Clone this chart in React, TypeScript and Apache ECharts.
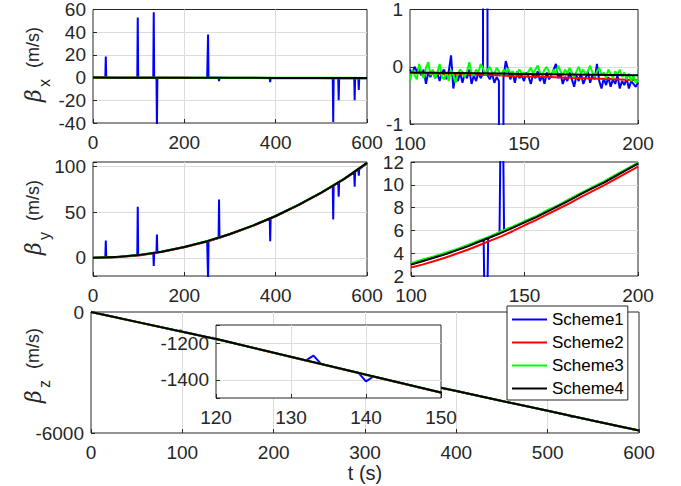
import React, { useEffect, useRef } from 'react';
import * as echarts from 'echarts';

// ---------- series identity ----------
const schemeNames = ['Scheme1', 'Scheme2', 'Scheme3', 'Scheme4'];
const schemeColors = ['#0000ff', '#ff0000', '#00ff00', '#000000'];

// ---------- full-run time base (s) ----------
const tCoarse = [0, 50, 100, 150, 200, 250, 300, 350, 400, 450, 500, 550, 600];

// beta_x over the full run (m/s)
const bx1 = [0, -0.1, -0.15, -0.15, -0.25, -0.2, -0.3, -0.3, -0.35, -0.35, -0.4, -0.4, -0.45];
const bx2 = [0, -0.05, -0.11, -0.17, -0.24, -0.3, -0.37, -0.43, -0.5, -0.56, -0.63, -0.69, -0.76];
const bx3 = [0, -0.05, -0.1, -0.1, -0.12, -0.12, -0.15, -0.15, -0.18, -0.2, -0.2, -0.22, -0.25];
const bx4 = [0, -0.06, -0.1, -0.12, -0.15, -0.17, -0.2, -0.22, -0.25, -0.27, -0.3, -0.32, -0.35];

// beta_y over the full run (m/s)
const by1 = [0, 0.75, 2.95, 6.65, 11.75, 18.25, 26.05, 35.25, 45.85, 58.05, 71.55, 86.55, 104.05];
const by2 = [0, 0.5, 2.6, 6.3, 11.4, 17.9, 25.7, 34.9, 45.5, 57.7, 71.2, 86.2, 103.7];
const by3 = [0, 0.8, 3.1, 6.8, 11.9, 18.4, 26.2, 35.4, 46, 58.2, 71.7, 86.7, 104.2];
const by4 = [0, 0.7, 2.9, 6.6, 11.7, 18.2, 26, 35.2, 45.8, 58, 71.5, 86.5, 104];

// beta_z over the full run (m/s)
const bz1 = [0, -490, -980, -1470, -1960, -2450, -2940, -3430, -3920, -4410, -4900, -5390, -5880];
const bz2 = [0, -491, -981, -1471, -1961, -2451, -2941, -3431, -3921, -4411, -4901, -5391, -5881];
const bz3 = [0, -490, -980, -1470, -1960, -2450, -2940, -3430, -3920, -4410, -4900, -5390, -5880];
const bz4 = [0, -490, -980, -1470, -1960, -2450, -2940, -3430, -3920, -4410, -4900, -5390, -5880];

// ---------- Scheme1 outliers (one-sample spikes) ----------
const spikeT = [28, 98, 133, 140, 252, 276, 388, 526, 538, 573, 582];
const spikeXPeak = [18.5, 53, 57.5, -45, 38, -3, -4, -39, -20, -20, -11];
const spikeXBefore = [0, -0.1, -0.12, -0.25, -0.2, -0.2, -0.3, -0.4, -0.4, -0.4, -0.4];
const spikeXAfter = [0, -0.1, -0.15, -0.2, -0.2, -0.2, -0.3, -0.4, -0.4, -0.4, -0.4];
const spikeYPeak = [19, 56, -9, 25.5, -25, 64, 18, 42, 67, 78, 90];
const spikeYBefore = [0.2, 2.7, 5.2, 5.75, 18.0, 21.6, 43.0, 78.8, 82.5, 93.6, 96.6];
const spikeYAfter = [0.25, 2.8, 5.35, 5.95, 18.4, 22.0, 43.3, 79.3, 83.1, 94.3, 97.2];
const spikeZPeak = [-254, -900, -1268, -1409, -2510, -2665, -3840, -5210, -5300, -5640, -5720];
const spikeZBefore = [-264, -950, -1294, -1362, -2460, -2695, -3793, -5145, -5263, -5605, -5694];
const spikeZAfter = [-284, -970, -1313, -1382, -2480, -2715, -3812, -5165, -5282, -5625, -5714];

// ---------- zoomed window 100..200 s ----------
const tFine = Array.from({ length: 101 }, (_, i) => 100 + i); // 1 s samples
const tMid = [100, 110, 120, 130, 140, 150, 160, 170, 180, 190, 200];
const tStep5 = [100, 105, 110, 115, 120, 125, 130, 135, 140, 145, 150, 155, 160, 165, 170, 175, 180, 185, 190, 195, 200];

const bxFine1 = [
  -0.05, -0.12, 0.0, -0.08, -0.02, -0.15, -0.05, -0.3, -0.1, -0.18,
  -0.06, -0.2, -0.12, -0.25, -0.1, -0.05, -0.22, -0.08, 0.2, -0.38,
  -0.15, -0.25, -0.1, -0.28, -0.12, -0.2, -0.05, -0.3, -0.15, -0.25,
  -0.1, -0.2, -0.12, -0.12, -0.15, -0.22, -0.12, -0.28, -0.18, -0.25,
  -0.22, -0.2, 0.1, -0.05, -0.22, -0.1, -0.28, -0.08, -0.2, -0.15,
  -0.25, -0.1, -0.18, -0.3, -0.12, -0.2, -0.08, -0.25, -0.15, -0.3,
  -0.1, -0.22, -0.15, -0.05, 0.05, -0.2, -0.12, -0.3, -0.18, -0.25,
  -0.1, -0.22, -0.35, -0.15, -0.25, -0.12, -0.3, -0.2, -0.08, -0.28,
  -0.15, -0.22, 0.05, -0.25, -0.38, -0.2, -0.32, -0.18, -0.35, -0.22,
  -0.3, -0.15, -0.38, -0.25, -0.32, -0.2, -0.38, -0.25, -0.3, -0.35,
  -0.28,
];
const bxMid2 = [-0.11, -0.12, -0.13, -0.14, -0.155, -0.17, -0.18, -0.19, -0.205, -0.22, -0.235];
const bxFine3 = [
  -0.25, -0.05, -0.15, -0.22, 0.05, -0.1, -0.2, -0.02, 0.08, -0.15,
  -0.05, -0.2, -0.1, 0.05, -0.18, -0.22, -0.1, -0.25, -0.05, -0.15,
  -0.28, -0.12, -0.05, -0.1, -0.18, -0.08, 0.08, -0.12, -0.15, -0.05,
  -0.1, 0.05, -0.02, -0.15, -0.05, 0.0, -0.1, -0.12, -0.02, -0.08,
  -0.15, -0.05, -0.1, -0.03, -0.12, -0.08, -0.15, -0.1, -0.05, -0.12,
  -0.1, -0.15, -0.08, -0.02, -0.12, -0.05, 0.02, -0.1, -0.15, -0.05,
  0.0, -0.1, -0.15, -0.05, -0.12, 0.02, -0.08, -0.15, -0.05, -0.12,
  -0.02, -0.1, -0.18, -0.08, 0.0, -0.12, -0.05, -0.15, -0.08, 0.02,
  -0.1, -0.18, -0.08, -0.02, -0.15, -0.1, -0.2, -0.05, -0.12, -0.2,
  -0.08, -0.15, -0.05, -0.18, -0.1, -0.22, -0.12, -0.25, -0.15, -0.28,
  -0.22,
];
const bxMid4 = [-0.1, -0.105, -0.11, -0.115, -0.12, -0.125, -0.13, -0.135, -0.14, -0.145, -0.15];

const byR1 = [3.05, 3.35, 3.65, 3.95, 4.3, 4.65, 5.05, 5.45, 5.85, 6.3, 6.75, 7.2, 7.7, 8.2, 8.7, 9.25, 9.75, 10.25, 10.8, 11.35, 11.9];
const byR2 = [2.75, 3.0, 3.3, 3.6, 3.95, 4.3, 4.7, 5.1, 5.5, 5.95, 6.45, 6.9, 7.4, 7.9, 8.4, 8.95, 9.45, 9.95, 10.5, 11.05, 11.6];
const byR3 = [3.12, 3.45, 3.72, 4.05, 4.35, 4.72, 5.12, 5.5, 5.95, 6.35, 6.82, 7.22, 7.78, 8.22, 8.78, 9.3, 9.82, 10.3, 10.88, 11.4, 11.95];
const byR4 = [3.0, 3.3, 3.6, 3.9, 4.25, 4.6, 5.0, 5.4, 5.8, 6.25, 6.7, 7.15, 7.65, 8.15, 8.65, 9.2, 9.7, 10.2, 10.75, 11.3, 11.85];

// ---------- tick label lists ----------
const midLeftYTicks = [0, 50, 100];
const insetYTicks = [-1400, -1200];

// ---------- helpers ----------
const zip = (ts: number[], vs: number[]) => ts.map((t, i) => [t, vs[i]]);

function withSpikes(ts: number[], vs: number[], before: number[], peak: number[], after: number[]) {
  const lo = ts[0];
  const hi = ts[ts.length - 1];
  const inRange = spikeT.map((s) => s >= lo && s <= hi);
  const pts: number[][] = [];
  ts.forEach((t, i) => {
    const near = spikeT.some((s, k) => inRange[k] && Math.abs(t - s) <= 1);
    if (!near) pts.push([t, vs[i]]);
  });
  spikeT.forEach((s, k) => {
    if (inRange[k]) pts.push([s - 1, before[k]], [s, peak[k]], [s + 1, after[k]]);
  });
  pts.sort((a, b) => a[0] - b[0]);
  return pts;
}

const FONT = '"Liberation Sans", Arial, Helvetica, sans-serif';
const AX = '#262626';
const plain = (v: number) => String(v);

function mkX(gi: number, min: number, max: number, interval: number, extra: any = {}) {
  return {
    type: 'value', gridIndex: gi, min, max, interval,
    axisLine: { show: false, onZero: false },
    axisTick: { show: true, inside: true, length: 4, lineStyle: { color: AX } },
    axisLabel: { fontSize: 19, color: AX, fontFamily: FONT, margin: 10, formatter: plain },
    splitLine: { show: true, showMinLine: false, showMaxLine: false, lineStyle: { color: '#dcdcdc', width: 1 } },
    ...extra,
  };
}
function mkY(gi: number, min: number, max: number, interval: number | undefined, extra: any = {}) {
  const o: any = {
    type: 'value', gridIndex: gi, min, max,
    axisLine: { show: false, onZero: false },
    axisTick: { show: true, inside: true, length: 4, lineStyle: { color: AX } },
    axisLabel: { fontSize: 19, color: AX, fontFamily: FONT, margin: 7, formatter: plain },
    splitLine: { show: true, showMinLine: false, showMaxLine: false, lineStyle: { color: '#dcdcdc', width: 1 } },
    ...extra,
  };
  if (interval !== undefined) o.interval = interval;
  return o;
}

function yLabel(cx: number, cy: number, sub: string) {
  return {
    type: 'group', x: cx, y: cy, rotation: Math.PI / 2, z: 30,
    children: [
      { type: 'text', x: -37, y: 0, style: { text: '\u03b2', font: 'italic 22px "DejaVu Serif", serif', fill: AX, align: 'left', verticalAlign: 'middle' } },
      { type: 'text', x: -22, y: 11, style: { text: sub, font: '16px ' + FONT, fill: AX, align: 'left', verticalAlign: 'middle' } },
      { type: 'text', x: -3, y: 0, style: { text: '(m/s)', font: '18px ' + FONT, fill: AX, align: 'left', verticalAlign: 'middle' } },
    ],
  };
}

export default function App() {
  const ref = useRef<HTMLDivElement>(null);
  useEffect(() => {
    if (!ref.current) return;
    const chart = echarts.init(ref.current, undefined, { renderer: 'svg' });

    const box = { show: true, borderColor: AX, borderWidth: 1, containLabel: false };
    const grids = [
      { left: 93, top: 6, width: 274, height: 117, ...box },
      { left: 410, top: 6, width: 228, height: 118, ...box },
      { left: 93, top: 162, width: 274, height: 114, ...box },
      { left: 411, top: 162, width: 227, height: 114, ...box },
      { left: 91, top: 312, width: 548, height: 121, ...box },
      { left: 216, top: 325, width: 225, height: 73, ...box, backgroundColor: '#ffffff', z: 10 },
    ];

    const xAxis = [
      mkX(0, 0, 600, 200),
      mkX(1, 100, 200, 50),
      mkX(2, 0, 600, 200),
      mkX(3, 100, 200, 50),
      mkX(4, 0, 600, 100, {
        name: 't (s)', nameLocation: 'middle', nameGap: 30,
        nameTextStyle: { fontSize: 20, color: AX, fontFamily: FONT },
      }),
      mkX(5, 120, 150, 10, { z: 11 }),
    ];
    const yAxis = [
      mkY(0, -40, 60, 20),
      mkY(1, -1, 1, 1),
      mkY(2, -20, 105, undefined, {
        splitNumber: 3,
        axisLabel: { fontSize: 19, color: AX, fontFamily: FONT, margin: 7,
          formatter: (v: number) => (midLeftYTicks.includes(v) ? String(v) : '') },
      }),
      mkY(3, 2, 12, 2),
      mkY(4, -6000, 0, 6000),
      mkY(5, -1500, -1100, undefined, {
        z: 11, splitNumber: 2,
        axisLabel: { fontSize: 19, color: AX, fontFamily: FONT, margin: 7,
          formatter: (v: number) => (insetYTicks.includes(v) ? String(v) : '') },
      }),
    ];

    const panelData: number[][][][] = [
      [withSpikes(tCoarse, bx1, spikeXBefore, spikeXPeak, spikeXAfter), zip(tCoarse, bx2), zip(tCoarse, bx3), zip(tCoarse, bx4)],
      [withSpikes(tFine, bxFine1, spikeXBefore, spikeXPeak, spikeXAfter), zip(tMid, bxMid2), zip(tFine, bxFine3), zip(tMid, bxMid4)],
      [withSpikes(tCoarse, by1, spikeYBefore, spikeYPeak, spikeYAfter), zip(tCoarse, by2), zip(tCoarse, by3), zip(tCoarse, by4)],
      [withSpikes(tStep5, byR1, spikeYBefore, spikeYPeak, spikeYAfter), zip(tStep5, byR2), zip(tStep5, byR3), zip(tStep5, byR4)],
      [withSpikes(tCoarse, bz1, spikeZBefore, spikeZPeak, spikeZAfter), zip(tCoarse, bz2), zip(tCoarse, bz3), zip(tCoarse, bz4)],
      [withSpikes(tCoarse, bz1, spikeZBefore, spikeZPeak, spikeZAfter), zip(tCoarse, bz2), zip(tCoarse, bz3), zip(tCoarse, bz4)],
    ];

    const series: any[] = [];
    panelData.forEach((panel, p) => {
      panel.forEach((data, s) => {
        series.push({
          type: 'line', name: schemeNames[s], xAxisIndex: p, yAxisIndex: p, data,
          symbol: 'none', showSymbol: false, clip: true, silent: true,
          lineStyle: { color: schemeColors[s], width: 2 },
          itemStyle: { color: schemeColors[s] },
          z: p === 5 ? 12 : 2,
        });
      });
    });

    chart.setOption({
      animation: false,
      backgroundColor: '#ffffff',
      grid: grids,
      xAxis, yAxis, series,
      legend: {
        data: schemeNames, orient: 'vertical', left: 507, top: 306,
        icon: 'rect', itemWidth: 35, itemHeight: 2, itemGap: 6,
        padding: [5, 4, 3, 5],
        backgroundColor: '#ffffff', borderColor: AX, borderWidth: 1, borderRadius: 0,
        textStyle: { fontSize: 17, color: '#000000', fontFamily: FONT },
        z: 20, selectedMode: false,
      },
      graphic: [yLabel(33, 65, 'x'), yLabel(33, 218, 'y'), yLabel(33, 366, 'z')],
    });

    return () => chart.dispose();
  }, []);

  return <div ref={ref} style={{ position: 'fixed', left: 0, top: 0, width: 681, height: 486, background: '#fff' }} />;
}
